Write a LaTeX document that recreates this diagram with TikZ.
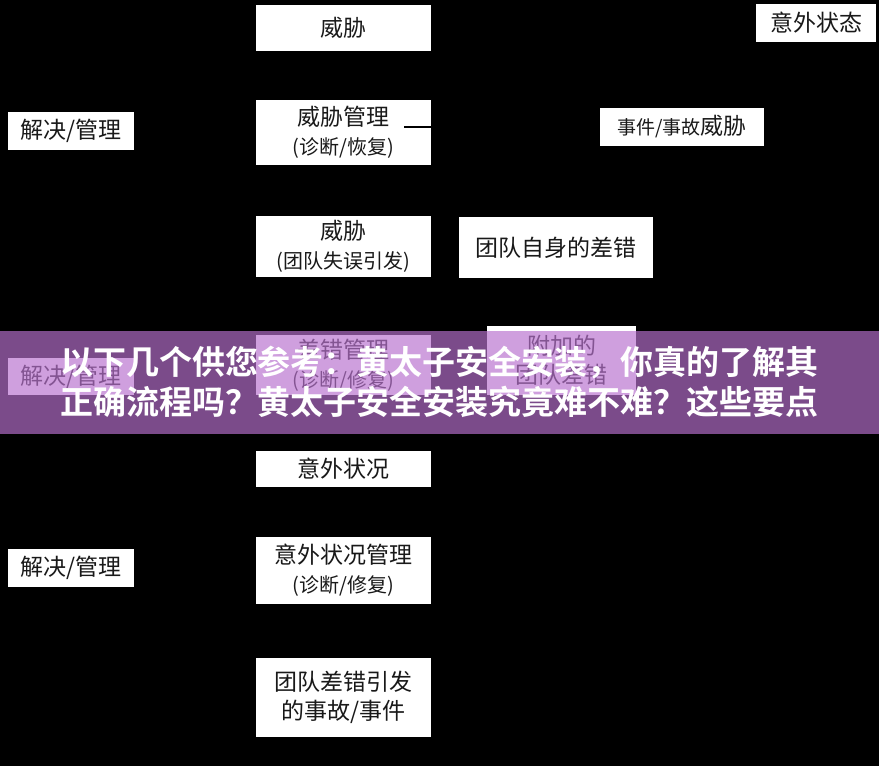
\documentclass[tikz,border=0pt]{standalone}
\usepackage{fontspec}
\setmainfont{Liberation Serif}
\newfontfamily\cjk{Noto Sans CJK SC}
\newfontfamily\cjkbold{Noto Sans CJK SC Bold}
\begin{document}
\begin{tikzpicture}[x=1pt,y=-1pt,
  box/.style={fill=white,draw=none,inner sep=0pt,align=center,font=\cjk\fontsize{23}{29}\selectfont,text=black!90}]
\fill[black] (0,0) rectangle (879,766);
\useasboundingbox (0,0) rectangle (879,766);
\newcommand\bx[6]{\node[box,minimum width=#4-#2,minimum height=#5-#3] (#1) at ({(#2+#4)/2},{(#3+#5)/2}) {#6};}
\bx{t1}{256}{5}{431}{51}{威胁}
\bx{ys}{756}{4}{876}{42}{意外状态}
\bx{r1}{8}{112}{134}{150}{解决/管理}
\bx{tm}{256}{100}{431}{165}{威胁管理\\{\fontsize{20}{26}\selectfont(诊断/恢复)}}
\bx{ev}{600}{108}{764}{146}{{\fontsize{19}{22}\selectfont 事件/事故}威胁}
\bx{t2}{256}{216}{431}{277}{威胁\\{\fontsize{20}{26}\selectfont(团队失误引发)}}
\bx{te}{459}{217}{653}{278}{团队自身的差错}
\bx{r2}{8}{358}{134}{395}{解决/管理}
\bx{em}{256}{335}{431}{395}{差错管理\\{\fontsize{20}{26}\selectfont(诊断/修复)}}
\bx{ae}{487}{326}{636}{395}{附加的\\团队差错}
\bx{us}{256}{451}{431}{487}{意外状况}
\bx{r3}{8}{549}{134}{587}{解决/管理}
\bx{um}{256}{537}{431}{604}{意外状况管理\\{\fontsize{20}{26}\selectfont(诊断/修复)}}
\bx{ac}{256}{658}{431}{737}{团队差错引发\\的事故/事件}
\coordinate (lk) at (404,127);
\draw[black,line width=1.5pt] (lk) -- (tm.east |- lk);
\fill[fill={rgb,255:red,184;green,113;blue,206},opacity=0.67] (0,331) rectangle (879,434);
\node[align=center,text=white,font=\cjkbold\fontsize{33}{40}\selectfont] (banner) at (439.5,382) {以下几个供您参考：黄太子安全安装，你真的了解其\\正确流程吗？黄太子安全安装究竟难不难？这些要点};
\end{tikzpicture}
\end{document}
